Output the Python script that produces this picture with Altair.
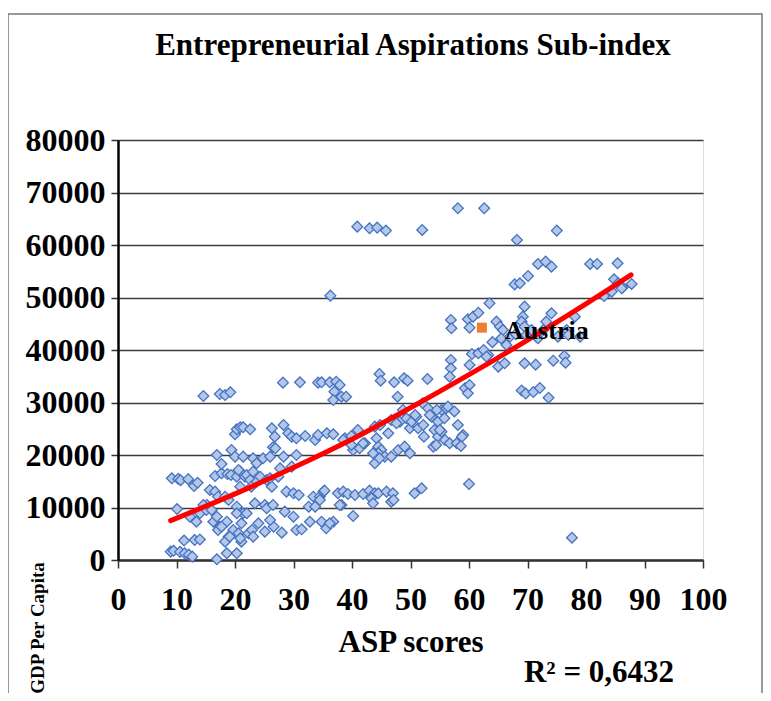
import altair as alt
import pandas as pd

# ASP score (x) and GDP per capita (y)
asp_scores = [
    9.2, 10.3, 10.7, 12.0, 13.0, 13.6, 10.1, 9.0, 9.5, 10.6, 11.4, 12.1, 12.7, 11.3, 13.1, 14.0,
    12.3, 14.0, 13.4, 15.2, 14.6, 15.1, 16.0, 14.6, 15.7, 16.6,
    16.3, 16.9, 17.4, 18.6, 17.1, 17.7, 18.9, 19.7, 20.6, 21.1, 22.3, 22.9, 24.0, 25.1, 26.6,
    16.9, 18.3, 18.6, 20.3, 19.1, 20.9, 23.1, 17.1, 18.3, 18.9, 20.3, 21.4, 23.4, 25.1, 20.3,
    21.1, 22.0, 26.0, 25.4, 26.5, 16.6, 17.7, 18.7, 19.3, 20.3, 20.9, 20.6, 21.7, 22.0, 22.6,
    23.1, 23.7, 24.3, 25.4, 26.0, 26.3, 27.4, 20.9, 22.8, 16.9, 17.7, 19.4, 20.0, 21.4, 23.1,
    23.7, 24.8, 26.0, 26.5, 27.7, 28.3, 29.7, 30.5, 17.4, 18.3, 19.2, 20.0, 20.3, 20.9, 21.4,
    22.6, 26.3, 26.9, 28.3, 26.8, 29.1, 29.7, 30.5, 32.0, 33.7, 34.2, 35.7, 36.8, 28.2, 31.1,
    34.2, 28.0, 28.5, 30.0, 30.5, 31.4, 32.8, 28.8, 30.0, 30.9, 32.6, 33.7, 33.4, 34.5, 35.1,
    34.8, 35.6, 36.8, 36.2, 38.2, 40.2, 34.5, 35.3, 37.6, 38.5, 39.3, 40.5, 41.9, 43.0, 43.9,
    44.5, 45.9, 47.0, 46.7, 43.3, 43.6, 47.1, 37.9, 50.7, 51.9, 60.0,
    34.8, 36.2, 37.3, 37.9, 37.0, 36.8, 38.2, 39.0, 44.7, 44.9, 47.2, 47.8, 48.9, 49.5, 52.9,
    36.3, 40.9, 43.0, 44.3, 45.8, 52.0, 58.1, 62.6, 68.2, 75.0,
    38.8, 39.9, 41.0, 40.2, 41.3, 42.2, 43.9, 44.2, 44.5, 45.0, 46.2, 46.7, 48.2, 48.7, 49.3,
    49.9, 50.2, 51.0, 51.3, 52.1, 53.0, 53.6, 54.1, 54.7, 55.3, 56.1, 56.4, 54.7, 55.3, 55.9,
    56.7, 57.9, 58.1, 59.0, 44.5, 45.6, 47.9, 49.0, 49.9, 46.7, 43.9, 44.7, 52.3, 53.9, 54.4,
    38.5, 39.9, 41.9, 43.6, 44.8, 47.6, 50.8, 52.2, 53.3, 54.5, 55.0, 58.8,
    56.9, 56.9, 56.7, 59.3, 60.1, 59.8, 60.5, 61.6, 63.3, 65.0, 66.1, 60.1, 62.5, 63.0,
    69.0, 69.7, 71.0, 72.1, 73.6, 69.5, 71.4, 74.4, 76.3, 76.5, 77.6,
    56.9, 57.0, 59.8, 60.7, 61.6, 63.5, 60.1, 64.7, 65.3, 65.8, 66.4, 67.0, 67.8, 68.7, 69.5,
    69.2, 69.0, 69.5, 69.8, 70.7, 71.5, 72.7, 73.2, 74.1, 76.7, 77.0, 78.1, 79.0, 71.8, 75.2,
    71.8, 73.1, 74.1, 80.7, 81.9, 85.4, 70.1, 84.8, 85.5, 86.3, 87.8, 84.4, 83.1, 86.1,
    64.0, 65.5, 68.0, 55.8, 57.5, 58.6,
]
gdp_per_capita = [
    15560, 15450, 15200, 15400, 14100, 14700, 9700, 1600, 1750, 1550, 1270, 1020, 640, 3700, 3800, 3900,
    8255, 8890, 7300, 10480, 10480, 9525, 9525, 31240, 13340, 13020,
    7300, 8255, 6350, 7300, 5715, 6350, 4445, 5715, 5080, 3490, 5080, 5715, 6985, 5400, 6350,
    130, 3490, 1270, 1270, 4450, 4130, 4450, 12065, 12065, 11430, 10160, 8890, 10800, 10480, 8890,
    6985, 8890, 7620, 9840, 10480, 16000, 16510, 16380, 16190, 15875, 16830, 17145, 15875, 16190, 15240,
    16830, 14920, 15875, 15240, 15560, 13970, 15875, 13970, 13970, 20000, 18290, 20955, 19685, 19685, 19370,
    18415, 19370, 19685, 21465, 17460, 19685, 17780, 20000, 31620, 31430, 31940, 23940, 24890, 25270, 25270,
    24890, 25080, 21270, 25720, 23495, 24130, 23495, 23177, 23622, 22860, 23812, 24130, 23940, 33780, 33850,
    33780, 5210, 9210, 8255, 5715, 5840, 7300, 13020, 12700, 12380, 10160, 10160, 12065, 12065, 13020,
    7300, 6030, 7300, 6985, 10480, 8380, 11430, 13210, 12700, 13020, 12570, 12380, 12570, 13210, 12700,
    12700, 13020, 12700, 11110, 11750, 10800, 11430, 10480, 12700, 13650, 14480,
    33850, 33850, 33970, 33340, 32070, 30480, 31110, 31110, 35430, 34160, 33850, 31110, 34610, 34160, 34480,
    50355, 63500, 63180, 63310, 62740, 62865, 67000, 67000, 60960, 62740,
    23180, 23620, 24765, 20955, 21270, 22225, 25400, 23180, 21590, 20955, 24130, 26670, 26350, 28575, 26990,
    25080, 26350, 27300, 25080, 29845, 28890, 27300, 24765, 26350, 28575, 28890, 29210, 23495, 24450, 22860,
    22225, 22225, 25720, 23810, 20320, 19685, 20955, 21590, 20320, 19685, 18415, 19370, 23495, 21590, 21900,
    22860, 21910, 22225, 20320, 25717, 26035, 27622, 25717, 27622, 28575, 24765, 23495,
    38100, 36510, 34920, 32700, 33340, 31750, 39240, 39370, 39050, 36830, 37465, 37150, 40010, 38740,
    32300, 31700, 32000, 32760, 30900, 37465, 37210, 37970, 38860, 37590, 4250,
    45720, 44130, 45850, 46355, 47100, 48900, 44260, 45400, 44450, 43800, 40960, 42550, 52500, 52700, 48260,
    46355, 45400, 44450, 42860, 43815, 42550, 43815, 45400, 46990, 43815, 42860, 46355, 42550, 42230, 42545,
    56390, 56830, 55880, 56390, 56390, 56510, 54100, 53470, 52700, 51940, 52580, 51120, 50290, 51750,
    41500, 42200, 43000, 27000, 28300, 21700,
]

# polynomial trend line as it appears in the picture (x, y samples)
trend_x = [9.0, 20.0, 30.0, 40.0, 50.0, 60.0, 70.0, 80.0, 87.7]
trend_y = [7500, 12600, 17600, 23000, 29000, 35300, 41900, 48800, 54300]

highlight_country = ["Austria"]
highlight_x = [62.2]
highlight_y = [44260]

x_ticks = [0, 10, 20, 30, 40, 50, 60, 70, 80, 90, 100]
y_ticks = [0, 10000, 20000, 30000, 40000, 50000, 60000, 70000, 80000]

chart_title = "Entrepreneurial Aspirations Sub-index"
x_title = "ASP scores"
y_title = "GDP Per Capita"
r2_text = "R² = 0,6432"

df = pd.DataFrame({"asp": asp_scores, "gdp": gdp_per_capita})
tr = pd.DataFrame({"asp": trend_x, "gdp": trend_y})
hl = pd.DataFrame({"asp": highlight_x, "gdp": highlight_y, "country": highlight_country})
one = pd.DataFrame({"a": [0]})

SERIF = "Liberation Serif"

xscale = alt.Scale(domain=[0, 100], nice=False, zero=False)
yscale = alt.Scale(domain=[0, 80000], nice=False)

xaxis = alt.Axis(
    values=x_ticks, title=x_title, grid=False,
    labelFont=SERIF, labelFontSize=32, labelFontWeight="bold", labelColor="black",
    labelPadding=16, labelFlush=False, labelOverlap=False,
    tickSize=8, tickColor="#333333", tickWidth=1.5,
    domainColor="#333333", domainWidth=2.5,
    titleFont=SERIF, titleFontSize=31, titleFontWeight="bold", titleColor="black",
    titlePadding=12,
)
yaxis = alt.Axis(
    values=y_ticks, title=None, grid=True, gridColor="#3c3c3c", gridWidth=1.5,
    labelFont=SERIF, labelFontSize=32, labelFontWeight="bold", labelColor="black",
    labelPadding=6, format="d", labelOverlap=False,
    tickSize=7, tickColor="#333333", tickWidth=1.5,
    domainColor="black", domainWidth=2.5,
)

frame = alt.Chart(one).mark_rect(fill="transparent", stroke="#777777", strokeWidth=1.5).encode(
    x=alt.value(-110), x2=alt.value(644), y=alt.value(-126), y2=alt.value(700)
)

points = alt.Chart(df).mark_point(
    shape="diamond", filled=True, fill="#b4c7e7", stroke="#4472c4",
    strokeWidth=1.3, size=115, opacity=1,
).encode(
    x=alt.X("asp:Q", scale=xscale, axis=xaxis),
    y=alt.Y("gdp:Q", scale=yscale, axis=yaxis),
)

trend = alt.Chart(tr).mark_line(
    color="#ff0000", strokeWidth=5, strokeCap="round", interpolate="monotone"
).encode(
    x=alt.X("asp:Q", scale=xscale),
    y=alt.Y("gdp:Q", scale=yscale),
)

hl_point = alt.Chart(hl).mark_square(size=100, color="#ed7d31", opacity=1).encode(
    x=alt.X("asp:Q", scale=xscale), y=alt.Y("gdp:Q", scale=yscale)
)
hl_text = alt.Chart(hl).mark_text(
    align="left", baseline="middle", dx=23, dy=3,
    font=SERIF, fontSize=26, fontWeight="bold", color="black",
).encode(x=alt.X("asp:Q", scale=xscale), y=alt.Y("gdp:Q", scale=yscale), text="country:N")

title_mark = alt.Chart(one).mark_text(
    text=chart_title, align="center", baseline="alphabetic",
    font=SERIF, fontSize=31, fontWeight="bold", color="black",
).encode(x=alt.value(295), y=alt.value(-85))

ytitle_mark = alt.Chart(one).mark_text(
    text=y_title, align="center", baseline="middle", angle=270,
    font=SERIF, fontSize=19, fontWeight="bold", color="black",
).encode(x=alt.value(-80), y=alt.value(488))

r2_mark = alt.Chart(one).mark_text(
    text=r2_text, align="center", baseline="middle",
    font=SERIF, fontSize=31, fontWeight="bold", color="black",
).encode(x=alt.value(481), y=alt.value(533))

chart = alt.layer(
    frame, points, trend, hl_point, hl_text, title_mark, ytitle_mark, r2_mark
).properties(
    width=585, height=420,
    autosize=alt.AutoSizeParams(type="none"),
    padding={"left": 110, "top": 132, "right": 60, "bottom": 133},
).configure_view(
    stroke="#8c8c8c", strokeWidth=2.5
).configure(background="white")

chart.save("out.html", embed_options={"renderer": "svg", "actions": False})
